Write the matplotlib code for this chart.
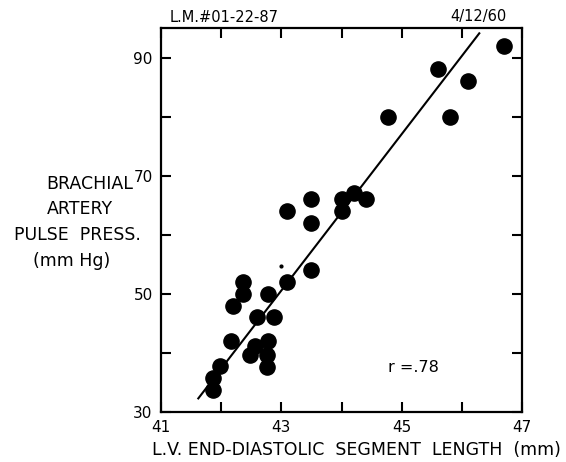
import matplotlib
matplotlib.use("Agg")
import matplotlib.pyplot as plt

# ---------------------------------------------------------------------------
# Data
# ---------------------------------------------------------------------------
seg_length = [41.87, 41.87, 41.98, 42.17, 42.20, 42.37, 42.37, 42.48, 42.57,
              42.60, 42.77, 42.77, 42.78, 42.78, 42.88, 43.10, 43.10, 43.50,
              43.50, 43.50, 44.00, 44.00, 44.20, 44.40, 44.77, 45.60, 45.80,
              46.10, 46.70]
pulse_press = [33.8, 35.8, 37.8, 42.0, 48.0, 50.0, 52.0, 39.6, 41.2,
               46.0, 37.6, 39.7, 42.0, 50.0, 46.0, 52.0, 64.0, 54.0,
               62.0, 66.0, 64.0, 66.0, 67.0, 66.0, 80.0, 88.0, 80.0,
               86.0, 92.0]

# regression line end points (as drawn)
fit_x = [41.62, 46.29]
fit_y = [32.3, 94.1]

x_ticks = [41, 42, 43, 44, 45, 46, 47]
x_labels = ["41", "", "43", "", "45", "", "47"]
y_ticks = [30, 40, 50, 60, 70, 80, 90]
y_labels = ["30", "", "50", "", "70", "", "90"]

ylabel_lines = ["BRACHIAL", "ARTERY", "PULSE  PRESS.", "(mm Hg)"]

plt.rcParams["font.family"] = ["DejaVu Sans"]

fig = plt.figure(figsize=(5.66, 4.62), dpi=100)
ax = fig.add_axes([161 / 566, 1 - 412 / 462, 361 / 566, 384 / 462])

ax.scatter(seg_length, pulse_press, s=120, color="black", zorder=3)
ax.plot(fit_x, fit_y, color="black", linewidth=1.5)
ax.plot([43.0], [54.7], marker="o", markersize=2, color="black")

ax.set_xlim(41, 47)
ax.set_ylim(30, 95)
ax.set_xticks(x_ticks)
ax.set_xticklabels(x_labels)
ax.set_yticks(y_ticks)
ax.set_yticklabels(y_labels)
ax.tick_params(direction="in", length=7, width=1.5, top=True, right=True,
               labelsize=11, pad=6)

for s in ax.spines.values():
    s.set_linewidth(1.6)

fig.text(356 / 566, 1 - 450 / 462, "L.V. END-DIASTOLIC  SEGMENT  LENGTH  (mm)",
         fontsize=12.5, ha="center", va="center")

# y label, one text per line as in the hand lettering
for txt, cx, cy in zip(ylabel_lines, [90, 80, 77, 72], [184, 209, 235, 261]):
    fig.text(cx / 566, 1 - cy / 462, txt, ha="center", va="center",
             fontsize=12.5)

ax.text(44.77, 37.6, "r =.78", fontsize=11.5, ha="left", va="center")

fig.text(170 / 566, 1 - 17 / 462, "L.M.#01-22-87", fontsize=10.5,
         ha="left", va="center")
fig.text(507 / 566, 1 - 17 / 462, "4/12/60", fontsize=10.5,
         ha="right", va="center")

fig.savefig("out.png", dpi=100)
